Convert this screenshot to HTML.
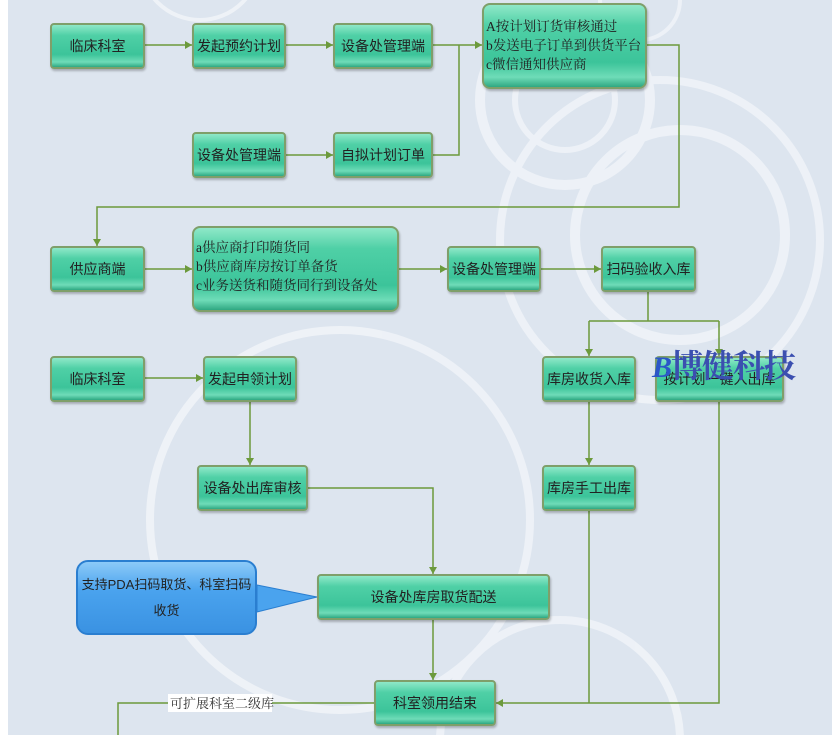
<!DOCTYPE html>
<html><head><meta charset="utf-8"><style>
html,body{margin:0;width:840px;height:735px;overflow:hidden;background:#fff;font-family:"Liberation Sans","Noto Sans CJK SC",sans-serif;}
#bg{position:absolute;left:8px;top:0;width:824px;height:735px;background:#dde5ef;overflow:hidden}
.b{position:absolute;box-sizing:border-box;border:2px solid #7f9f6a;border-radius:4px;background:linear-gradient(#8fe8c8 0%,#4fd0a6 25%,#3cc49a 70%,#6fdcb8 88%,#2fa882 100%);display:flex;align-items:center;justify-content:center;font-size:14px;color:#222;box-shadow:1px 2px 2px rgba(0,0,0,.25);white-space:nowrap}
.t{justify-content:flex-start;align-items:flex-start;flex-direction:column;font-family:"Liberation Serif","Noto Serif CJK SC",serif;font-size:13.5px;line-height:19px;padding:6px 2px;color:#222;border-radius:8px}
svg{position:absolute;left:0;top:0}
</style></head><body>
<div id="bg"></div>
<svg width="840" height="735">
<g fill="none" stroke="#f2f5f9" stroke-width="10" opacity=".8">
<circle cx="565" cy="100" r="85"/><circle cx="565" cy="100" r="50" stroke-width="6"/>
<circle cx="680" cy="235" r="105"/><circle cx="660" cy="240" r="160" stroke-width="8"/>
<circle cx="340" cy="520" r="190" stroke-width="8"/>
<circle cx="560" cy="740" r="120" stroke-width="8"/>
<circle cx="640" cy="0" r="40" stroke-width="4"/>
<circle cx="200" cy="-40" r="60" stroke-width="4"/>
</g>
<g stroke="#6c9a3c" stroke-width="1.5" fill="none">
<path d="M145 45H192M286 45H333M433 45H482M459 45V155H433M286 155H333M647 45H679V207H97V246M145 269H192M399 269H447M541 269H601M648 291V321M589 321H719M589 321V356M719 321V356M145 378H203M250 401V465M308 488H433V574M589 401V465M589 510V703M719 401V703H496M433 620V680M374 703H118V735"/>
</g>
<g fill="#6c9a3c">
<path d="M192 45l-7-4v8zM333 45l-7-4v8zM333 155l-7-4v8zM482 45l-7-4v8zM97 246l-4-7h8zM192 269l-7-4v8zM447 269l-7-4v8zM601 269l-7-4v8zM589 356l-4-7h8zM719 356l-4-7h8zM203 378l-7-4v8zM250 465l-4-7h8zM433 574l-4-7h8zM589 465l-4-7h8zM496 703l7-4v8zM433 680l-4-7h8z"/>
</g>
<rect x="168" y="694" width="104" height="18" fill="#fff"/>
<text x="170" y="708" font-family="Liberation Serif,Noto Serif CJK SC,serif" font-size="13" fill="#333">可扩展科室二级库</text>
<path d="M257 585L317 597L257 612Z" fill="#4aa3ee" stroke="#2a7ed0"/>
</svg>
<div class="b" style="left:50px;top:23px;width:95px;height:46px">临床科室</div>
<div class="b" style="left:192px;top:23px;width:94px;height:46px">发起预约计划</div>
<div class="b" style="left:333px;top:23px;width:100px;height:46px">设备处管理端</div>
<div class="b t" style="left:482px;top:3px;width:165px;height:86px;padding-top:12px"><div>A按计划订货审核通过</div><div>b发送电子订单到供货平台</div><div>c微信通知供应商</div></div>
<div class="b" style="left:192px;top:132px;width:94px;height:46px">设备处管理端</div>
<div class="b" style="left:333px;top:132px;width:100px;height:46px">自拟计划订单</div>
<div class="b" style="left:50px;top:246px;width:95px;height:46px">供应商端</div>
<div class="b t" style="left:192px;top:226px;width:207px;height:86px;padding-top:10px"><div>a供应商打印随货同</div><div>b供应商库房按订单备货</div><div>c业务送货和随货同行到设备处</div></div>
<div class="b" style="left:447px;top:246px;width:94px;height:46px">设备处管理端</div>
<div class="b" style="left:601px;top:246px;width:95px;height:46px">扫码验收入库</div>
<div class="b" style="left:50px;top:356px;width:95px;height:46px">临床科室</div>
<div class="b" style="left:203px;top:356px;width:94px;height:46px">发起申领计划</div>
<div class="b" style="left:542px;top:356px;width:94px;height:46px">库房收货入库</div>
<div class="b" style="left:655px;top:356px;width:129px;height:46px">按计划一键入出库</div>
<div class="b" style="left:197px;top:465px;width:111px;height:46px">设备处出库审核</div>
<div class="b" style="left:542px;top:465px;width:94px;height:46px">库房手工出库</div>
<div class="b" style="left:317px;top:574px;width:233px;height:46px">设备处库房取货配送</div>
<div class="b" style="left:374px;top:680px;width:122px;height:46px">科室领用结束</div>
<div style="position:absolute;left:76px;top:560px;width:181px;height:75px;box-sizing:border-box;border:2px solid #2a7ed0;border-radius:12px;background:linear-gradient(#8ccaf8,#4aa3ee 40%,#3a92e2);font-size:13px;color:#222;text-align:center;line-height:26px;padding-top:10px">支持PDA扫码取货、科室扫码<br>收货</div>
<div style="position:absolute;left:652px;top:346px;font-family:'Liberation Serif','Noto Serif CJK SC',serif;font-weight:bold;font-size:32px;line-height:40px;color:#3b4fb0;letter-spacing:-1px"><span style="font-style:italic;font-size:30px;color:#2b56c8">B</span>博健科技</div>
</body></html>
